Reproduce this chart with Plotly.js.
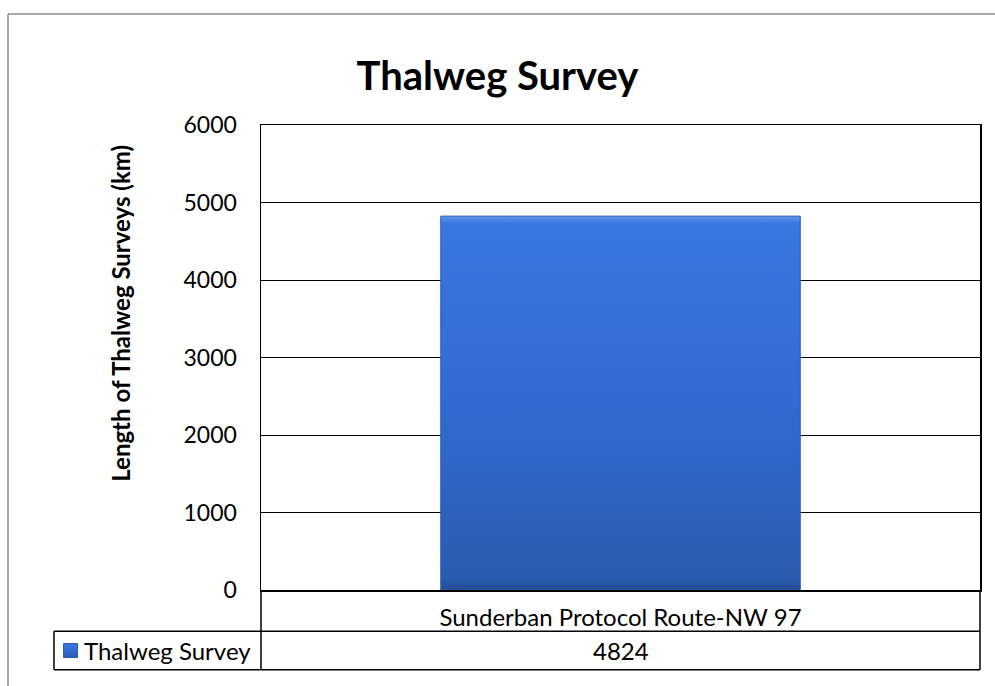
<!DOCTYPE html>
<html>
<head>
<meta charset="utf-8">
<script src="https://cdn.plot.ly/plotly-3.0.1.min.js"></script>
<style>
  html, body { margin: 0; padding: 0; background: #ffffff; }
  #chart { width: 995px; height: 686px; }
</style>
</head>
<body>
<div id="chart"></div>
<script>
// ---- Data ----
const categories = ["Sunderban Protocol Route-NW 97"];
const seriesName = "Thalweg Survey";
const values = [4824];
const yTickVals = [0, 1000, 2000, 3000, 4000, 5000, 6000];
const chartTitle = "Thalweg Survey";
const yTitle = "Length of Thalweg Surveys (km)";

const FONT = "Lato, 'Open Sans', sans-serif";

const trace = {
  type: "bar",
  x: categories,
  y: values,
  name: seriesName,
  marker: { color: "#3270d8", line: { color: "#2a5cb4", width: 1 } },
  hoverinfo: "none",
  showlegend: true
};

// paper-coordinate helpers for the table grid (plot area 261..980 x, 125..598 y)
const L = 261, R = 980, T = 125, B = 598;
const px = v => (v - L) / (R - L);
const py = v => (B - v) / (B - T);

const blk = { color: "#000000", width: 1.5 };
const shapes = [
  // outer chart border (grey)
  { type: "line", xref: "paper", yref: "paper", x0: px(8), x1: px(8), y0: py(700), y1: py(12), line: { color: "#a8a8a8", width: 2 } },
  { type: "line", xref: "paper", yref: "paper", x0: px(8), x1: px(1010), y0: py(12), y1: py(12), line: { color: "#a8a8a8", width: 2 } },
  // data table lines
  { type: "line", xref: "paper", yref: "paper", x0: px(54), x1: 1, y0: py(640), y1: py(640), line: blk },
  { type: "line", xref: "paper", yref: "paper", x0: px(54), x1: 1, y0: py(679), y1: py(679), line: blk },
  { type: "line", xref: "paper", yref: "paper", x0: px(54), x1: px(54), y0: py(640), y1: py(679), line: blk },
  { type: "line", xref: "paper", yref: "paper", x0: 0, x1: 0, y0: 0, y1: py(679), line: blk },
  { type: "line", xref: "paper", yref: "paper", x0: 1, x1: 1, y0: 0, y1: py(679), line: blk }
];

const annotations = [
  {
    text: "<b>" + yTitle + "</b>", textangle: -90, xref: "paper", yref: "paper",
    x: px(121), y: py(317), xanchor: "center", yanchor: "middle", showarrow: false,
    font: { family: FONT, size: 24, color: "#000000" }
  }
].concat(categories.map((c, i) => ({
  text: String(values[i]), xref: "x", yref: "paper",
  x: c, y: py(660), xanchor: "center", yanchor: "middle", showarrow: false,
  font: { family: FONT, size: 24, color: "#000000" }
})));

const layout = {
  width: 995, height: 686,
  margin: { l: L, r: 995 - R, t: T, b: 686 - B, pad: 0 },
  paper_bgcolor: "#ffffff",
  plot_bgcolor: "#ffffff",
  font: { family: FONT, color: "#000000" },
  title: {
    text: "<b>" + chartTitle + "</b>",
    x: 0.5, xref: "container", xanchor: "center",
    y: 1 - 76 / 686, yref: "container", yanchor: "middle",
    font: { family: FONT, size: 40, color: "#000000" }
  },
  bargap: 0.5,
  xaxis: {
    showline: true, mirror: true, linecolor: "#000000", linewidth: 1.5,
    showgrid: false, ticks: "", ticklabelstandoff: 6,
    tickfont: { family: FONT, size: 24, color: "#000000" },
    fixedrange: true
  },
  yaxis: {
    range: [0, 6000], tickvals: yTickVals, ticktext: yTickVals.map(String),
    showline: true, mirror: true, linecolor: "#000000", linewidth: 1.5,
    showgrid: true, gridcolor: "#000000", gridwidth: 1,
    zeroline: false, ticks: "", ticklabelstandoff: 18,
    tickfont: { family: FONT, size: 23, color: "#000000" },
    fixedrange: true
  },
  showlegend: true,
  legend: {
    x: px(44), y: py(660), xanchor: "left", yanchor: "middle",
    bgcolor: "rgba(0,0,0,0)", borderwidth: 0,
    font: { family: FONT, size: 24, color: "#000000" },
    itemwidth: 30
  },
  shapes: shapes,
  annotations: annotations
};

Plotly.newPlot("chart", [trace], layout, { displayModeBar: false, staticPlot: true }).then(gd => {
  // apply a vertical gradient like the Excel bevelled bar
  const svg = gd.querySelector("svg.main-svg");
  const defs = svg.querySelector("defs");
  const ns = "http://www.w3.org/2000/svg";
  const grad = document.createElementNS(ns, "linearGradient");
  grad.setAttribute("id", "barGrad");
  grad.setAttribute("x1", "0"); grad.setAttribute("y1", "0");
  grad.setAttribute("x2", "0"); grad.setAttribute("y2", "1");
  [["0", "#5b95ec"], ["0.02", "#3877e0"], ["0.5", "#316bd2"], ["0.97", "#2b5bb0"], ["1", "#234b93"]].forEach(([o, c]) => {
    const s = document.createElementNS(ns, "stop");
    s.setAttribute("offset", o); s.setAttribute("stop-color", c);
    grad.appendChild(s);
  });
  defs.appendChild(grad);
  gd.querySelectorAll(".barlayer .point path, .legendpoints path").forEach(p => {
    p.style.fill = "url(#barGrad)";
  });
  // enlarge / nudge the legend key to match the Excel data-table key
  gd.querySelectorAll(".legendpoints path").forEach(p => {
    p.setAttribute("d", "M13.5,7H-0.5V-7H13.5Z");
  });
});
</script>
</body>
</html>
